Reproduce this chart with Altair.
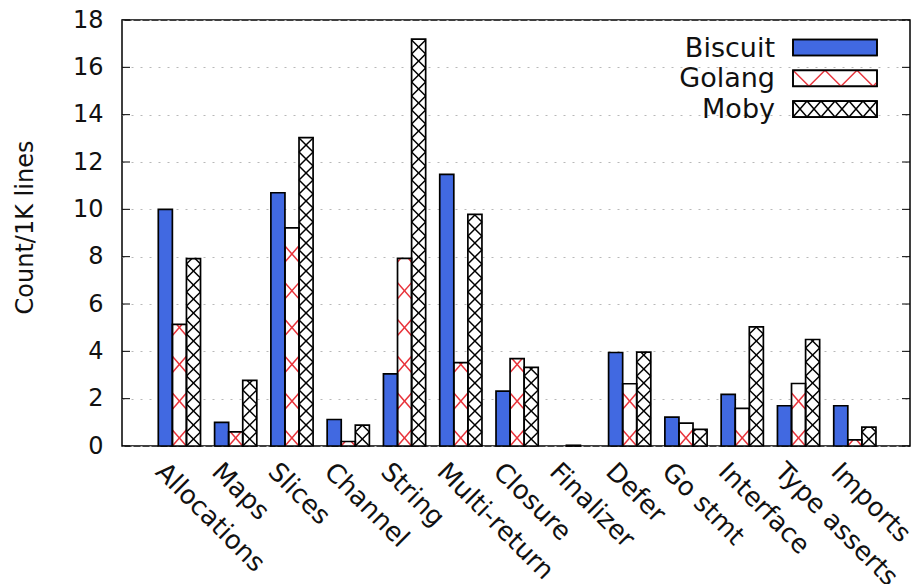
import json
import math

import altair as alt
import pandas as pd

# Feature usage per 1K lines of code
categories = ["Allocations", "Maps", "Slices", "Channel", "String", "Multi-return",
              "Closure", "Finalizer", "Defer", "Go stmt", "Interface", "Type asserts", "Imports"]
biscuit = [10.0, 1.0, 10.7, 1.12, 3.05, 11.48, 2.32, 0.0, 3.95, 1.22, 2.18, 1.70, 1.70]
golang = [5.14, 0.60, 9.22, 0.19, 7.93, 3.52, 3.69, 0.03, 2.63, 0.97, 1.59, 2.64, 0.26]
moby = [7.92, 2.77, 13.03, 0.88, 17.19, 9.79, 3.32, 0.0, 3.97, 0.70, 5.03, 4.50, 0.80]
series = ["Biscuit", "Golang", "Moby"]
y_ticks = list(range(0, 19, 2))

# Layout
W, H = 788, 426
PAD = {"left": 122, "top": 20, "right": 3, "bottom": 138}
X_DOMAIN = [-1.02, 12.98]
Y_DOMAIN = [0, 18]
PX_X = W / (X_DOMAIN[1] - X_DOMAIN[0])
PX_Y = H / (Y_DOMAIN[1] - Y_DOMAIN[0])
BAR_W = 0.25
OFFSETS = {"Biscuit": -0.375, "Golang": -0.125, "Moby": 0.125}

FONT = "DejaVu Sans"
INK = "#111111"
BLUE = "#4169e1"
RED = "#e8323a"
FILLS = [BLUE, "white", "white"]
HATCH = ["black", RED, "black"]

# Hatch styles: (period px, slope, phase of "/" lines, phase of "\" lines)
BAR_HATCH = {"Golang": (32, 1.15, 0, 14), "Moby": (14, 1.0, 0, 0)}
KEY_HATCH = {"Golang": (32, 1.0, 16, 16), "Moby": (14, 16 / 14, 0, 0)}


def hatch_lines(w, h, period, slope, phase, rising):
    """Diagonal line segments clipped to a w x h box (y up), in pixels."""
    out = []
    if h <= 0:
        return out
    span = h / slope
    a = phase - period * (math.ceil((span + w) / period) + 1)
    while a <= w + span + period:
        if rising:
            lo, hi = max(0.0, a), min(w, a + span)
            if hi - lo > 1e-6:
                out.append((lo, slope * (lo - a), hi, slope * (hi - a)))
        else:
            lo, hi = max(0.0, a - span), min(w, a)
            if hi - lo > 1e-6:
                out.append((lo, slope * (a - lo), hi, slope * (a - hi)))
        a += period
    return out


def pattern(w, h, style):
    period, slope, pa, pb = style
    return (hatch_lines(w, h, period, slope, pa, True)
            + hatch_lines(w, h, period, slope, pb, False))


values = {"Biscuit": biscuit, "Golang": golang, "Moby": moby}
bar_rows, hatch_rows = [], []
for i, cat in enumerate(categories):
    for s in series:
        v = values[s][i]
        if v <= 0:
            continue
        x0 = i + OFFSETS[s]
        bar_rows.append({"category": cat, "series": s, "value": v, "base": 0.0,
                         "x0": x0, "x1": x0 + BAR_W})
        if s in BAR_HATCH:
            for (ax, ay, bx, by) in pattern(BAR_W * PX_X, v * PX_Y, BAR_HATCH[s]):
                hatch_rows.append({"series": s,
                                   "hx": x0 + ax / PX_X, "hy": ay / PX_Y,
                                   "hx2": x0 + bx / PX_X, "hy2": by / PX_Y})
bars_df = pd.DataFrame(bar_rows)
hatch_df = pd.DataFrame(hatch_rows)

# Key in the upper right corner (pixel positions inside the plot area)
KEY_X, KEY_W, KEY_H = 671, 84, 16
KEY_TOP, KEY_STEP = 19.5, 30.8
key_rows, key_hatch_rows = [], []
for r, s in enumerate(series):
    top = KEY_TOP + KEY_STEP * r
    key_rows.append({"series": s, "tx": KEY_X - 18, "ty": top + KEY_H / 2 + 1,
                     "rx": KEY_X, "rx2": KEY_X + KEY_W, "ry": top, "ry2": top + KEY_H})
    if s in KEY_HATCH:
        for (ax, ay, bx, by) in pattern(KEY_W, KEY_H, KEY_HATCH[s]):
            key_hatch_rows.append({"series": s,
                                   "px": KEY_X + ax, "py": top + KEY_H - ay,
                                   "px2": KEY_X + bx, "py2": top + KEY_H - by})
key_df = pd.DataFrame(key_rows)
key_hatch_df = pd.DataFrame(key_hatch_rows)

fill_scale = alt.Scale(domain=series, range=FILLS)
stroke_scale = alt.Scale(domain=series, range=HATCH)
label_expr = json.dumps(categories) + "[datum.value]"

x_enc = alt.X("x0:Q", scale=alt.Scale(domain=X_DOMAIN, nice=False, zero=False),
              axis=alt.Axis(values=list(range(len(categories))), labelExpr=label_expr,
                            labelAngle=45, labelAlign="left", labelBaseline="middle",
                            labelFont=FONT, labelFontSize=26, labelColor=INK,
                            labelOffset=-20, labelPadding=21, labelOverlap=False,
                            labelFlush=False, ticks=True, tickSize=0, domain=False,
                            grid=False, title=None))
y_enc = alt.Y("value:Q", scale=alt.Scale(domain=Y_DOMAIN, nice=False),
              axis=alt.Axis(values=y_ticks, title="Count/1K lines", grid=True,
                            gridColor="#b8b8b8", gridDash=[2, 7], gridWidth=1,
                            domain=False, ticks=True, tickSize=0, labelPadding=19,
                            labelFont=FONT, labelFontSize=24, labelColor=INK,
                            titleFont=FONT, titleFontSize=24, titleFontWeight="normal",
                            titleColor=INK, titleAngle=270, titleX=-97, titleY=207,
                            titleAlign="center", titleBaseline="middle"))

bars = alt.Chart(bars_df).mark_rect(strokeWidth=0).encode(
    x=x_enc, x2="x1:Q", y=y_enc, y2="base:Q",
    fill=alt.Fill("series:N", scale=fill_scale, legend=None),
)

hatch = alt.Chart(hatch_df).mark_rule(strokeWidth=1.5).encode(
    x=alt.X("hx:Q"), x2="hx2:Q", y=alt.Y("hy:Q"), y2="hy2:Q",
    stroke=alt.Stroke("series:N", scale=stroke_scale, legend=None),
)

outline = alt.Chart(bars_df).mark_rect(fillOpacity=0, stroke="black", strokeWidth=1.7).encode(
    x="x0:Q", x2="x1:Q", y="value:Q", y2="base:Q",
)

tick_df = pd.DataFrame({"t": y_ticks})
left_ticks = alt.Chart(tick_df).mark_rule(color="black", strokeWidth=1).encode(
    y="t:Q", x=alt.value(0), x2=alt.value(8))
right_ticks = alt.Chart(tick_df).mark_rule(color="black", strokeWidth=1).encode(
    y="t:Q", x=alt.value(W - 8), x2=alt.value(W))

key_text = alt.Chart(key_df).mark_text(align="right", baseline="middle", font=FONT,
                                       fontSize=27, color=INK).encode(
    x=alt.X("tx:Q", scale=None, axis=None), y=alt.Y("ty:Q", scale=None, axis=None),
    text="series:N",
)
key_box = alt.Chart(key_df).mark_rect(stroke="black", strokeWidth=1.5).encode(
    x=alt.X("rx:Q", scale=None, axis=None), x2="rx2:Q",
    y=alt.Y("ry:Q", scale=None, axis=None), y2="ry2:Q",
    fill=alt.Fill("series:N", scale=fill_scale, legend=None),
)
key_hatch = alt.Chart(key_hatch_df).mark_rule(strokeWidth=1.5).encode(
    x=alt.X("px:Q", scale=None, axis=None), x2="px2:Q",
    y=alt.Y("py:Q", scale=None, axis=None), y2="py2:Q",
    stroke=alt.Stroke("series:N", scale=stroke_scale, legend=None),
)
key_frame = alt.Chart(key_df).mark_rect(fillOpacity=0, stroke="black", strokeWidth=1.7).encode(
    x=alt.X("rx:Q", scale=None, axis=None), x2="rx2:Q",
    y=alt.Y("ry:Q", scale=None, axis=None), y2="ry2:Q",
)

chart = alt.layer(
    bars, hatch, outline, left_ticks, right_ticks,
    key_text, key_box, key_hatch, key_frame,
).properties(
    width=W, height=H,
    autosize=alt.AutoSizeParams(type="none"),
    padding=PAD,
    background="white",
).configure_view(stroke="black", strokeWidth=1.5)

chart.save("out.html", embed_options={"renderer": "svg", "actions": False})
